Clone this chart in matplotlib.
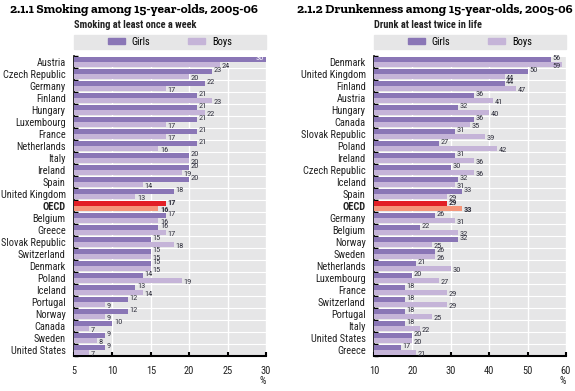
import numpy as np
import matplotlib
matplotlib.use("Agg")
import matplotlib.pyplot as plt
from matplotlib.patches import Rectangle, Patch

plt.rcParams['font.family'] = ['Roboto Condensed', 'DejaVu Sans']

# --- data ---
smoke_countries = ['Austria', 'Czech Republic', 'Germany', 'Finland', 'Hungary', 'Luxembourg',
                   'France', 'Netherlands', 'Italy', 'Ireland', 'Spain', 'United Kingdom', 'OECD',
                   'Belgium', 'Greece', 'Slovak Republic', 'Switzerland', 'Denmark', 'Poland',
                   'Iceland', 'Portugal', 'Norway', 'Canada', 'Sweden', 'United States']
smoke_girls = [30, 23, 22, 21, 21, 21, 21, 21, 20, 20, 20, 18, 17, 17, 16, 15, 15, 15, 14, 13, 12, 12, 10, 9, 9]
smoke_boys = [24, 20, 17, 23, 22, 17, 17, 16, 20, 19, 14, 13, 16, 16, 17, 18, 15, 15, 19, 14, 9, 9, 7, 8, 7]

drunk_countries = ['Denmark', 'United Kingdom', 'Finland', 'Austria', 'Hungary', 'Canada',
                   'Slovak Republic', 'Poland', 'Ireland', 'Czech Republic', 'Iceland', 'Spain', 'OECD',
                   'Germany', 'Belgium', 'Norway', 'Sweden', 'Netherlands', 'Luxembourg', 'France',
                   'Switzerland', 'Portugal', 'Italy', 'United States', 'Greece']
drunk_girls = [56, 50, 44, 36, 32, 36, 31, 27, 31, 30, 32, 33, 29, 26, 22, 32, 26, 21, 20, 18, 18, 18, 18, 20, 17]
drunk_boys = [59, 44, 47, 41, 40, 35, 39, 42, 36, 36, 31, 29, 33, 31, 32, 25, 26, 30, 27, 29, 29, 25, 22, 20, 21]

GIRLS = '#8a76b6'
BOYS = '#c5b4d8'
OECD_G = '#e21f26'
OECD_B = '#f5957a'
BG = '#e6e6e7'

fig = plt.figure(figsize=(5.75, 3.91), dpi=100)
ax1 = fig.add_axes([74 / 575, 1 - 356 / 391, 192 / 575, 300 / 391])
ax2 = fig.add_axes([374 / 575, 1 - 356 / 391, 192 / 575, 300 / 391])


def draw_panel(ax, countries, girls, boys, xmin, xmax, step, title, subtitle, tx):
    n = len(countries)
    y = np.arange(n)
    h = 0.4
    cg = [OECD_G if c == 'OECD' else GIRLS for c in countries]
    cb = [OECD_B if c == 'OECD' else BOYS for c in countries]
    ax.set_facecolor(BG)
    ax.barh(y - h / 2, np.array(girls) - xmin, left=xmin, height=h, color=cg, zorder=3)
    ax.barh(y + h / 2, np.array(boys) - xmin, left=xmin, height=h, color=cb, zorder=3)
    off = (xmax - xmin) * 0.008
    for i in range(n):
        bold = 'bold' if countries[i] == 'OECD' else 'normal'
        for v, dy, col in [(girls[i], -h / 2 - 0.1, 'white'), (boys[i], h / 2 + 0.12, '#333340')]:
            if v + (xmax - xmin) * 0.04 > xmax:
                ax.text(v - off, i + dy, str(v), ha='right', va='center', fontsize=6,
                        color=col, zorder=5, fontweight=bold)
            else:
                ax.text(v + off, i + dy, str(v), ha='left', va='center', fontsize=6,
                        color='#333340', zorder=5, fontweight=bold)
    ax.set_xlim(xmin, xmax)
    ax.set_ylim(n - 0.5, -0.5)
    ax.set_xticks(np.arange(xmin, xmax + 1, step))
    ax.set_yticks(y)
    ax.set_yticklabels(countries)
    for lab in ax.get_yticklabels():
        if lab.get_text() == 'OECD':
            lab.set_fontweight('bold')
    ax.set_yticks(np.arange(-0.5, n, 1), minor=True)
    ax.tick_params(axis='y', which='major', length=0, labelsize=7.5, pad=6, labelcolor='#222222')
    ax.tick_params(axis='y', which='minor', length=3, direction='in', width=1)
    ax.tick_params(axis='x', length=3, width=1.5, direction='in', labelsize=7.5, pad=7,
                   labelcolor='#222222')
    ax.grid(axis='x', color='white', linewidth=1, zorder=0)
    ax.grid(axis='y', which='minor', color='white', linewidth=0.8, zorder=0)
    ax.set_axisbelow(True)
    for s in ['top', 'right']:
        ax.spines[s].set_visible(False)
    ax.spines['left'].set_linewidth(1.2)
    ax.spines['bottom'].set_linewidth(1.5)
    ax.text(1.0, -0.085, '%', transform=ax.transAxes, ha='right', va='center', fontsize=7.5,
            color='#222222')
    # legend band
    ax.add_patch(Rectangle((0, 1.023), 1, 0.047, transform=ax.transAxes, color=BG,
                           clip_on=False, zorder=1))
    handles = [Patch(color=GIRLS, label='Girls'), Patch(color=BOYS, label='Boys')]
    ax.legend(handles=handles, loc='center', bbox_to_anchor=(0.5, 1.047), ncol=2, frameon=False,
              fontsize=7.5, handlelength=1.6, handleheight=0.55, columnspacing=3.6, borderpad=0,
              handletextpad=0.7)
    ax.text(0.0, 1.105, subtitle, transform=ax.transAxes, ha='left', va='center',
            fontsize=7.5, fontweight='bold', color='#222222')
    fig.text(tx, 1 - 10 / 391, title, ha='left', va='center', fontsize=9.5, fontweight='bold',
             family='Zilla Slab')


draw_panel(ax1, smoke_countries, smoke_girls, smoke_boys, 5, 30, 5,
           '2.1.1 Smoking among 15-year-olds, 2005-06', 'Smoking at least once a week', 10 / 575)
draw_panel(ax2, drunk_countries, drunk_girls, drunk_boys, 10, 60, 10,
           '2.1.2 Drunkenness among 15-year-olds, 2005-06', 'Drunk at least twice in life', 297 / 575)

fig.savefig('out.png', dpi=100)
